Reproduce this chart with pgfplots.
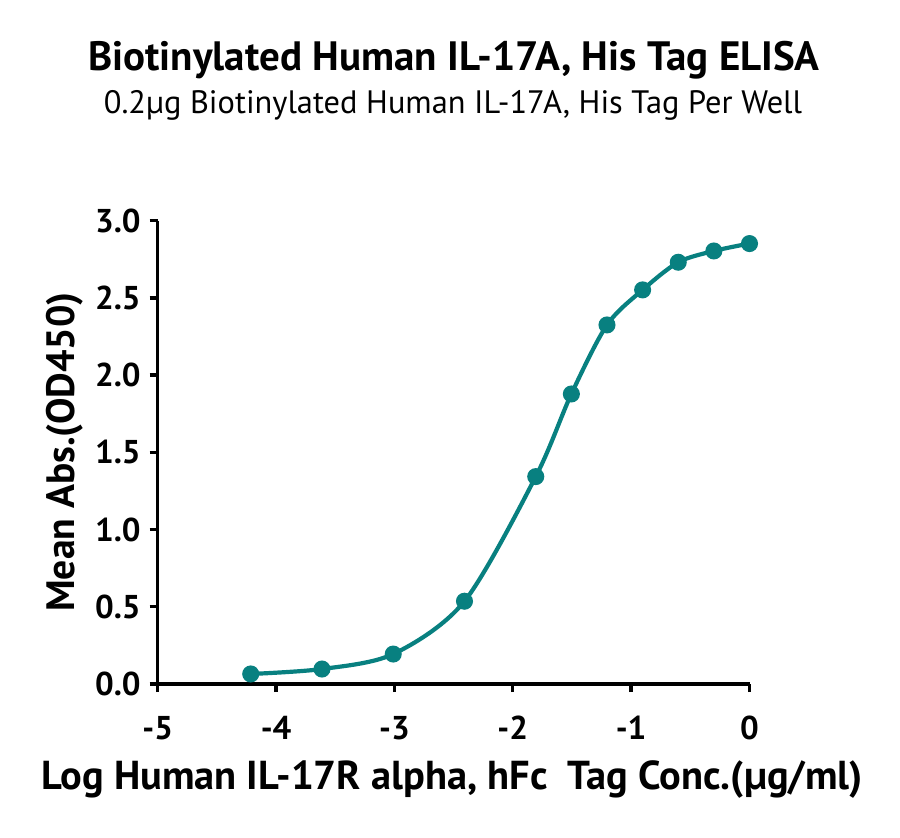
\documentclass[border=0pt]{standalone}
\usepackage{fontspec}
\setmainfont{PT Sans}
\usepackage{pgfplots}
\pgfplotsset{compat=1.18}
\definecolor{curvecol}{RGB}{8,128,128}

\begin{document}
\begin{tikzpicture}[x=1pt,y=1pt]
  \useasboundingbox (0,0) rectangle (450,418.5);
  \begin{axis}[
    at={(78.85pt,76.5pt)}, anchor=south west,
    scale only axis,
    width=295.9pt, height=231.65pt,
    xmin=-5, xmax=0, ymin=0, ymax=3,
    xtick={-5,-4,...,0},
    ytick={0,0.5,...,3},
    axis lines=left,
    axis line style={-, line width=1.7pt},
    tick align=outside,
    major tick length=4pt,
    tick style={line width=1.7pt, black},
    clip=false,
    /pgf/number format/assume math mode=true,
    ticklabel style={font=\bfseries\fontsize{16.5}{16.5}\selectfont},
    xticklabel style={yshift=-8.5pt},
    yticklabel style={xshift=-1pt, /pgf/number format/.cd, fixed, fixed zerofill, precision=1},
  ]
    % mean OD450 vs log concentration
    \addplot[color=curvecol, line width=2.1pt, smooth,
      mark=*, mark size=3.2pt, mark options={solid, fill=curvecol, draw=curvecol}]
      coordinates {
        (-4.214,0.065) (-3.612,0.097) (-3.010,0.194) (-2.408,0.536)
        (-1.806,1.343) (-1.505,1.878) (-1.204,2.325) (-0.903,2.552)
        (-0.602,2.731) (-0.301,2.804) (0,2.852)
      };
  \end{axis}
  \node[font=\bfseries\fontsize{20.5}{20.5}\selectfont] at (227,388.5)
    {Biotinylated Human IL-17A, His Tag ELISA};
  \node[font=\fontsize{16.2}{16.2}\selectfont] at (226.5,366)
    {0.2µg Biotinylated Human IL-17A, His Tag Per Well};
  \node[font=\bfseries\fontsize{20.2}{20.2}\selectfont] at (226,28.5)
    {Log Human IL-17R alpha, hFc\ \ Tag Conc.(µg/ml)};
  \node[font=\bfseries\fontsize{19.8}{19.8}\selectfont, rotate=90] at (32.5,192.5)
    {Mean Abs.(OD450)};
\end{tikzpicture}
\end{document}
